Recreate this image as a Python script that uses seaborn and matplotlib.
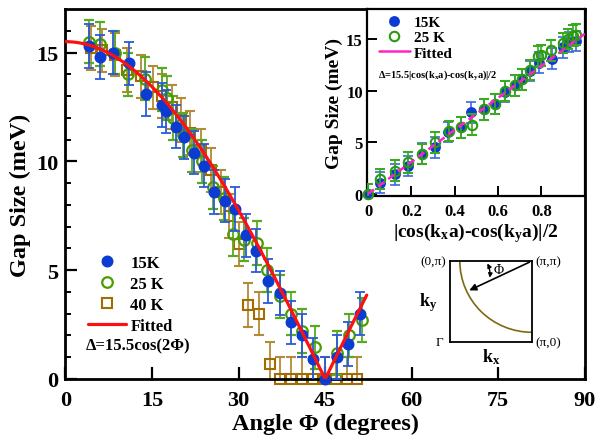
import matplotlib

matplotlib.use("Agg")
import matplotlib.pyplot as plt
from matplotlib.lines import Line2D
from matplotlib.patches import Arc
import numpy as np
import pandas as pd
import seaborn as sns

# main panel: gap vs Fermi-surface angle
angle_15k = [4.1, 6.0, 8.3, 11.0, 13.9, 16.8, 17.5, 19.1, 20.6, 22.3, 24.0, 25.8, 27.6,
             29.4, 31.2, 33.1, 35.1, 37.1, 39.1, 40.9, 42.9, 45.0, 47.1, 49.0, 51.0]
gap_15k = [15.3, 14.8, 15.0, 14.5, 13.1, 12.6, 12.3, 11.6, 11.1, 10.4, 9.8, 8.6, 8.2,
           7.8, 6.6, 5.9, 4.5, 3.95, 2.6, 2.0, 0.9, 0.0, 1.0, 1.6, 3.0]

angle_25k = [4.1, 6.0, 8.5, 10.8, 13.8, 16.8, 17.6, 18.7, 20.4, 22.0, 23.6, 25.6, 27.5,
             29.1, 31.0, 33.2, 35.0, 37.1, 39.1, 41.0, 43.3, 47.0, 49.2, 51.3]
gap_25k = [15.5, 15.4, 15.0, 14.0, 13.8, 13.3, 12.9, 12.0, 11.2, 10.5, 10.0, 8.8, 8.3,
           6.65, 6.4, 6.25, 5.0, 3.8, 3.0, 2.2, 1.45, 1.2, 2.0, 2.7]

angle_40k = [4.5, 6.3, 8.6, 10.7, 13.0, 15.2, 16.8, 18.4, 20.0, 21.6, 23.4, 25.2, 26.9,
             28.4, 30.0, 31.7, 33.6, 35.4, 37.2, 39.1, 40.9, 42.9, 44.9, 46.9, 48.7, 50.6]
gap_40k = [15.2, 15.1, 14.9, 14.2, 13.9, 13.4, 13.0, 12.5, 11.9, 11.3, 10.5, 9.6, 8.6,
           7.5, 6.2, 3.4, 3.0, 0.7, 0.0, 0.0, 0.0, 0.0, 0.0, 0.0, 0.0, 0.0]

gap_err = 1.0
fit_amp = 15.5

# inset: gap vs |cos(kx a)-cos(ky a)|/2
dwave_15k = [0.0, 0.055, 0.124, 0.186, 0.25, 0.308, 0.37, 0.428, 0.477, 0.533, 0.584,
             0.63, 0.676, 0.711, 0.745, 0.79, 0.849, 0.898, 0.929, 0.959]
igap_15k = [0.0, 1.1, 1.9, 2.7, 3.9, 4.5, 6.0, 6.45, 7.9, 8.2, 8.7,
            9.9, 10.5, 11.1, 11.9, 12.7, 13.1, 14.2, 14.7, 14.8]
dwave_25k = [0.0, 0.055, 0.124, 0.186, 0.25, 0.308, 0.374, 0.428, 0.481, 0.533, 0.584,
             0.63, 0.676, 0.711, 0.745, 0.783, 0.799, 0.845, 0.898, 0.92, 0.945, 0.96]
igap_25k = [0.0, 1.45, 2.25, 3.05, 3.85, 5.0, 6.1, 6.45, 6.7, 8.2, 8.7,
            9.95, 10.5, 11.1, 12.0, 13.3, 13.4, 13.9, 14.6, 15.0, 15.3, 15.4]

BLUE = "#0a3cd2"
GREEN = "#4a9c00"
BROWN = "#a26c00"
RED = "#ff1010"
PINK = "#ff22c8"

sns.set_theme(style="ticks")
plt.rcParams["font.family"] = ["Liberation Serif", "DejaVu Serif"]
plt.rcParams["font.weight"] = "bold"
plt.rcParams["axes.edgecolor"] = "black"
plt.rcParams["xtick.color"] = "black"
plt.rcParams["ytick.color"] = "black"
plt.rcParams["text.color"] = "black"
plt.rcParams["axes.labelcolor"] = "black"
plt.rcParams["mathtext.fontset"] = "custom"
plt.rcParams["mathtext.rm"] = "Liberation Serif:bold"
plt.rcParams["mathtext.bf"] = "Liberation Serif:bold"
plt.rcParams["mathtext.it"] = "Liberation Serif:bold"


def errplot(axis, x, y, **kw):
    # markers may spill over the frame, the bars are cut at the axes
    line, caps, bars = axis.errorbar(x, y, **kw)
    line.set_clip_on(False)
    for c in caps:
        c.set_clip_on(True)
    for b in bars:
        b.set_clip_on(True)


fig = plt.figure(figsize=(5.98, 4.39), dpi=100)
ax = fig.add_axes([0.1095, 0.1344, 0.8685, 0.8428])

eb = dict(yerr=gap_err, capsize=3.6, elinewidth=1.3, capthick=1.3)
errplot(ax, angle_40k, gap_40k, fmt="s", ms=7.8, mfc="none", mec=BROWN, mew=1.5,
        ecolor="#b38a35", zorder=2, **eb)
errplot(ax, angle_25k, gap_25k, fmt="o", ms=7.6, mfc="none", mec=GREEN, mew=1.6,
        ecolor="#5aaa20", zorder=3, **eb)
errplot(ax, angle_15k, gap_15k, fmt="o", ms=7.6, mfc=BLUE, mec=BLUE,
        ecolor="#2a5ad8", zorder=4, **eb)

phi = np.linspace(0, 52.2, 300)
fit_main = pd.DataFrame({"phi": phi, "gap": fit_amp * np.abs(np.cos(np.radians(2 * phi)))})
sns.lineplot(data=fit_main, x="phi", y="gap", ax=ax, color=RED, lw=2.3, zorder=5)

ax.set_xlim(0, 90)
ax.set_ylim(0, 17)
ax.set_xticks([0, 15, 30, 45, 60, 75, 90])
ax.set_yticks([0, 5, 10, 15])
ax.set_yticks(np.arange(1, 17), minor=True)
ax.tick_params(axis="both", which="major", direction="in", length=8.5, width=1.6,
               labelsize=16, pad=5)
ax.tick_params(axis="x", which="major", pad=8)
ax.tick_params(axis="y", which="minor", direction="in", length=4, width=1.4)
for lab in ax.get_xticklabels() + ax.get_yticklabels():
    lab.set_fontweight("bold")
for sp in ax.spines.values():
    sp.set_linewidth(2)
    sp.set_visible(True)
ax.set_xlabel("Angle Φ (degrees)", fontsize=17.5, fontweight="bold", labelpad=2)
ax.set_ylabel("Gap Size (meV)", fontsize=17.5, fontweight="bold", labelpad=4)

handles = [
    Line2D([], [], ls="none", marker="o", ms=7.6, mfc=BLUE, mec=BLUE),
    Line2D([], [], ls="none", marker="o", ms=7.6, mfc="none", mec=GREEN, mew=1.6),
    Line2D([], [], ls="none", marker="s", ms=7.8, mfc="none", mec=BROWN, mew=1.5),
    Line2D([], [], color=RED, lw=2.3),
]
ax.legend(handles, ["15K", "25 K", "40 K", "Fitted"], loc="upper left",
          bbox_to_anchor=(0.043, 0.335), frameon=False, borderpad=0,
          borderaxespad=0, handlelength=2.3, handletextpad=0.25,
          labelspacing=0.3, prop={"size": 12, "weight": "bold"})
ax.text(0.039, 0.09, "Δ=15.5cos(2Φ)", transform=ax.transAxes, fontsize=12,
        fontweight="bold", va="center")

# inset panel
ins = fig.add_axes([0.6137, 0.5513, 0.3643, 0.4260])
ieb = dict(yerr=gap_err, capsize=3.5, elinewidth=1.2, capthick=1.2)
errplot(ins, dwave_15k, igap_15k, fmt="o", ms=6.8, mfc=BLUE, mec=BLUE,
        ecolor="#3a66e0", zorder=3, **ieb)
errplot(ins, dwave_25k, igap_25k, fmt="o", ms=6.8, mfc="none", mec="#2a9a10", mew=1.5,
        ecolor="#3aaa20", zorder=4, **ieb)
xd = np.linspace(0, 1.0, 50)
fit_ins = pd.DataFrame({"x": xd, "gap": fit_amp * xd})
sns.lineplot(data=fit_ins, x="x", y="gap", ax=ins, color=PINK, lw=1.8,
             ls=(0, (3, 2)), zorder=5)
ins.set_xlim(-0.005, 1.0)
ins.set_ylim(-0.2, 17.9)
ins.set_xticks([0, 0.2, 0.4, 0.6, 0.8])
ins.set_xticklabels(["0", "0.2", "0.4", "0.6", "0.8"])
ins.set_yticks([0, 5, 10, 15])
ins.tick_params(axis="both", direction="in", length=7, width=1.4, labelsize=12, pad=3)
ins.tick_params(axis="x", pad=5)
for lab in ins.get_xticklabels() + ins.get_yticklabels():
    lab.set_fontweight("bold")
for sp in ins.spines.values():
    sp.set_linewidth(1.6)
ins.set_xlabel("|cos(k$_\\mathrm{x}$a)-cos(k$_\\mathrm{y}$a)|/2", fontsize=14,
               fontweight="bold", labelpad=1)
ins.set_ylabel("Gap Size (meV)", fontsize=14, fontweight="bold", labelpad=2)

ihandles = [
    Line2D([], [], ls="none", marker="o", ms=6.8, mfc=BLUE, mec=BLUE),
    Line2D([], [], ls="none", marker="o", ms=6.8, mfc="none", mec="#2a9a10", mew=1.5),
    Line2D([], [], color=PINK, lw=1.8),
]
ins.legend(ihandles, ["15K", "25 K", "Fitted"], loc="upper left",
           bbox_to_anchor=(0.055, 0.965), frameon=False, borderpad=0,
           borderaxespad=0, handlelength=2.0, handletextpad=0.3,
           labelspacing=0.1, prop={"size": 11, "weight": "bold"})
ins.text(0.05, 0.65, "Δ=15.5|cos(k$_\\mathrm{x}$a)-cos(k$_\\mathrm{y}$a)|/2",
         transform=ins.transAxes, fontsize=7.5, fontweight="bold", va="center")

# Brillouin-zone sketch
bz = fig.add_axes([0.7525, 0.2187, 0.137, 0.1845])
bz.set_xlim(0, 1)
bz.set_ylim(0, 1)
bz.set_xticks([])
bz.set_yticks([])
bz.set_facecolor("none")
for sp in bz.spines.values():
    sp.set_linewidth(1.3)
    sp.set_color("black")
bz.add_patch(Arc((1, 1), 1.76, 1.76, theta1=180, theta2=270, color="#7a6a10", lw=1.2))
bz.annotate("", xy=(0.205, 0.623), xytext=(1, 1),
            arrowprops=dict(arrowstyle="-|>", color="black", lw=1.2, mutation_scale=10))
bz.annotate("", xy=(0.48, 0.76), xytext=(0.44, 1.0),
            arrowprops=dict(arrowstyle="<|-|>", color="black", lw=1.0,
                            mutation_scale=6, connectionstyle="arc3,rad=-0.2"))
bz.text(0.6, 0.9, "Φ", fontsize=10, fontweight="normal", ha="center", va="center")
small = dict(fontsize=9.5, fontweight="normal", va="center")
bz.text(-0.05, 1.0, "(0,π)", ha="right", **small)
bz.text(1.04, 1.0, "(π,π)", ha="left", **small)
bz.text(1.04, 0.0, "(π,0)", ha="left", **small)
bz.text(-0.08, 0.0, "Γ", ha="right", **small)
bz.text(-0.15, 0.5, "k$_\\mathrm{y}$", fontsize=13, fontweight="bold", ha="right", va="center")
bz.text(0.5, -0.05, "k$_\\mathrm{x}$", fontsize=13, fontweight="bold", ha="center", va="top")

fig.savefig("out.png", dpi=100)
